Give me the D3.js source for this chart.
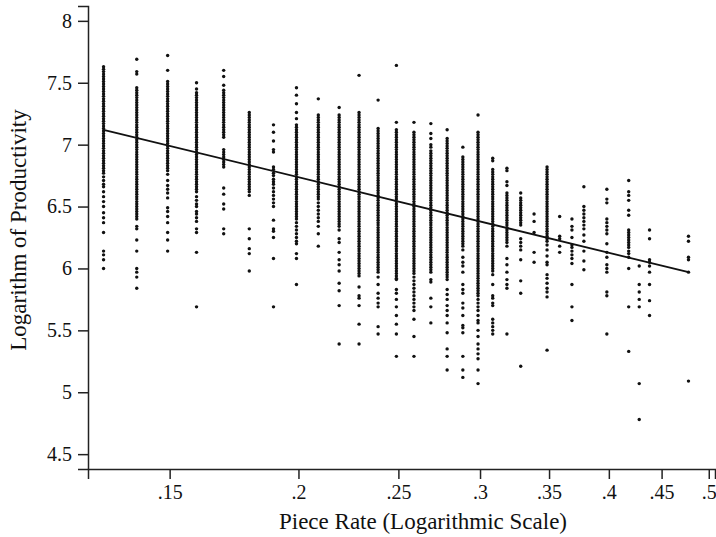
<html>
<head>
<script src="https://d3js.org/d3.v7.min.js"></script>
<style>
  body { margin: 0; background: #fff; }
  svg text { font-family: 'Liberation Serif', 'Times New Roman', Times, 'DejaVu Serif', serif !important; }
</style>
</head>
<body>
<script>
// piece rates of each column of workers
const rates = [.13, .14, .15, .16, .17, .18, .19, .20, .21, .22, .23, .24, .25, .26,
  .27, .28, .29, .30, .31, .32, .33, .34, .35, .36, .37, .38, .40, .42, .43, .44, .48];

// log productivity of each column, in hundredths
const columns = [
  "763 761 759 757 755 753 751 749 747 745 743 741 739 737 735 733 731 729 727 725 723 721 719 717 715 713 711 709 707 705 703 701 699 697 695 693 691 689 687 685 683 681 679 677 674 671 668 666 662 658 654 650 645 641 637 629 614 611 607 600",
  "769 759 757 746 744 742 740 738 736 734 732 730 728 726 724 722 720 718 716 714 712 710 708 706 704 702 700 698 696 694 692 690 688 686 684 682 680 678 676 674 672 670 668 666 664 662 660 658 656 654 652 650 648 646 644 642 640 634 632 623 614 600 597 593 584",
  "772 760 751 749 747 745 743 741 739 737 735 733 731 729 727 725 723 721 719 717 715 713 711 709 707 705 703 701 699 697 695 693 691 689 687 685 683 681 679 676 671 667 664 661 657 649 646 642 637 629 623 614",
  "750 745 742 740 738 736 734 732 730 728 726 724 722 720 718 716 714 712 710 708 706 704 702 700 698 696 694 692 690 688 686 684 682 680 678 676 674 672 670 668 666 664 662 658 655 652 650 646 644 641 638 632 629 613 569",
  "760 755 748 744 742 740 738 736 734 732 730 728 726 724 722 720 718 716 714 712 710 708 706 696 694 692 690 688 686 684 682 665 660 652 648 632 628",
  "726 724 722 720 718 716 714 712 710 708 706 704 702 700 698 696 694 692 690 688 686 684 682 680 678 676 674 672 670 668 666 664 662 659 632 624 616 612 598",
  "716 710 703 696 694 682 680 677 675 672 670 668 665 662 659 656 653 650 639 632 630 625 608 569",
  "746 740 733 726 721 716 714 712 710 708 706 704 702 700 698 696 694 692 690 688 686 684 682 680 678 676 674 672 670 668 666 664 662 660 658 656 654 652 650 648 646 644 642 640 637 634 631 628 625 622 620 612 608 587",
  "737 724 722 720 718 716 714 712 710 708 706 704 702 700 698 696 694 692 690 688 686 684 682 680 678 676 674 672 670 668 666 664 662 660 658 656 653 650 647 644 641 638 634 628 618",
  "730 724 722 720 718 716 714 712 710 708 706 704 702 700 698 696 694 692 690 688 686 684 682 680 678 676 674 672 670 668 666 664 662 660 658 656 654 652 650 648 646 644 642 640 638 636 634 631 624 621 613 607 603 598 588 582 570 539",
  "756 726 724 722 720 718 716 714 712 710 708 706 704 702 700 698 696 694 692 690 688 686 684 682 680 678 676 674 672 670 668 666 664 662 660 658 656 654 652 650 648 646 644 642 640 638 636 634 632 630 628 626 624 622 620 618 616 614 612 610 608 606 604 602 600 598 596 594 585 578 576 570 555 539",
  "736 713 711 709 707 705 703 701 699 697 695 693 691 689 687 685 683 681 679 677 675 673 671 669 667 665 663 661 659 657 655 653 651 649 647 645 643 641 639 637 635 633 631 629 627 625 623 621 619 617 615 613 611 609 607 605 603 601 599 597 593 587 580 576 572 569 553 547",
  "764 718 712 710 708 706 704 702 700 698 696 694 692 690 688 686 684 682 680 678 676 674 672 670 668 666 664 662 660 658 656 654 652 650 648 646 644 642 640 638 636 634 632 630 628 626 624 622 620 618 616 614 612 610 608 606 604 602 600 598 596 594 592 591 583 580 575 569 562 555 547 529",
  "718 710 708 706 704 702 700 698 696 694 692 690 688 686 684 682 680 678 676 674 672 670 668 666 664 662 660 658 656 654 652 650 648 646 644 642 640 638 636 634 632 630 628 626 624 622 620 618 616 614 612 610 608 606 604 602 600 598 596 593 590 587 584 581 578 575 572 569 566 559 545 529",
  "717 709 705 700 698 695 693 691 689 687 685 683 681 679 677 675 673 671 669 667 665 663 661 659 657 655 653 651 649 647 645 643 641 639 637 635 633 631 629 627 625 623 621 619 617 615 613 611 609 607 605 603 601 599 597 591 589 576 569 556",
  "712 705 703 701 699 697 695 693 691 689 687 685 683 681 679 677 675 673 671 669 667 665 663 661 659 657 655 653 651 649 647 645 643 641 639 637 635 633 631 629 627 625 623 621 619 617 615 613 611 609 607 605 603 601 599 597 595 593 591 583 579 575 570 566 562 556 548 535 529 518",
  "698 690 688 686 684 682 680 678 676 674 672 670 668 666 664 662 660 658 656 654 652 650 648 646 644 642 640 638 636 634 632 630 628 626 624 622 620 618 615 609 605 602 597 587 583 580 572 568 562 554 552 548 529 518 512",
  "724 710 708 706 704 702 700 698 696 694 692 690 688 686 684 682 680 678 676 674 672 670 668 666 664 662 660 658 656 654 652 650 648 646 644 642 640 638 636 634 632 630 628 626 624 622 620 618 616 614 612 610 608 606 604 602 600 598 596 594 592 590 588 586 584 582 580 578 575 572 569 566 562 558 556 550 545 539 535 531 527 518 507",
  "689 687 680 678 676 674 672 670 668 666 664 662 660 658 656 654 652 650 648 646 644 642 640 638 636 634 632 630 628 626 624 622 620 618 616 614 612 610 608 606 604 602 600 598 595 587 578 576 572 570 559 556 553 550 547",
  "681 679 670 667 661 659 657 655 653 651 649 647 645 643 641 639 637 635 633 631 629 627 625 623 621 618 608 603 597 591 587 584 547",
  "661 657 655 653 651 649 647 645 643 641 639 637 635 624 621 618 615 607 590 580 521",
  "644 638 629 613 605",
  "682 680 678 676 674 672 670 668 666 664 662 660 658 656 654 652 650 648 646 644 642 640 638 636 634 632 630 628 626 624 622 619 615 610 605 603 595 592 588 584 581 577 534",
  "642 626 624 618 613",
  "640 634 631 625 619 617 614 611 608 604 587 569 558",
  "666 650 647 644 641 638 635 632 627 622 614 606 599",
  "664 656 653 640 637 634 631 628 620 613 609 603 600 597 581 578 547",
  "671 662 659 655 647 643 631 629 627 625 623 621 619 617 614 612 609 600 569 533",
  "602 587 581 575 569 507 478",
  "631 624 607 605 602 597 587 574 562",
  "626 622 609 607 597 509"
];

// fitted line: productivity = a + b * ln(rate)
const fitA = 5.3234, fitB = -0.8806;
const fitRange = [.13, .48];

const xTicks = [.15, .2, .25, .3, .35, .4, .45, .5];
const xTickLabels = [".15", ".2", ".25", ".3", ".35", ".4", ".45", ".5"];
const yTicks = [4.5, 5, 5.5, 6, 6.5, 7, 7.5, 8];

const width = 716, height = 537;
const margin = {top: 6, right: 1, bottom: 68, left: 88};

const points = [];
rates.forEach((r, i) => {
  columns[i].split(" ").forEach(v => points.push({rate: r, value: +v / 100}));
});

const x = d3.scaleLog()
  .domain([0.125, 0.507])
  .range([margin.left, width - margin.right]);

const y = d3.scaleLinear()
  .domain([4.38, 8.12])
  .range([height - margin.bottom, margin.top]);

const svg = d3.select("body").append("svg")
  .attr("width", width)
  .attr("height", height);

svg.append("g")
  .attr("fill", "#111")
  .selectAll("circle")
  .data(points)
  .join("circle")
    .attr("cx", d => x(d.rate) - 2)
    .attr("cy", d => y(d.value))
    .attr("r", 1.7);

const line = d3.line()
  .x(d => x(d) - 2)
  .y(d => y(fitA + fitB * Math.log(d)));

svg.append("path")
  .datum(fitRange)
  .attr("fill", "none")
  .attr("stroke", "#111")
  .attr("stroke-width", 1.8)
  .attr("d", line);

const xAxis = g => g
  .attr("transform", `translate(0,${height - margin.bottom})`)
  .call(d3.axisBottom(x).tickValues(xTicks).tickFormat((d, i) => xTickLabels[i])
    .tickSizeOuter(0).tickSize(10).tickPadding(6))
  .attr("font-size", 20);

const yAxis = g => g
  .attr("transform", `translate(${margin.left},0)`)
  .call(d3.axisLeft(y).tickValues(yTicks).tickFormat(d3.format("")).tickSizeOuter(0)
    .tickSize(10).tickPadding(6))
  .attr("font-size", 20);

svg.append("g").call(xAxis);
svg.append("g").call(yAxis);
svg.selectAll(".domain, .tick line").attr("stroke", "#222").attr("stroke-width", 1.5);
svg.selectAll(".tick text").attr("fill", "#111");

svg.append("text")
  .attr("x", 423)
  .attr("y", 529)
  .attr("text-anchor", "middle")
  .attr("font-size", 23)
  .attr("fill", "#111")
  .text("Piece Rate (Logarithmic Scale)");

svg.append("text")
  .attr("transform", "translate(26,230) rotate(-90)")
  .attr("text-anchor", "middle")
  .attr("font-size", 23)
  .attr("fill", "#111")
  .text("Logarithm of Productivity");
</script>
</body>
</html>
